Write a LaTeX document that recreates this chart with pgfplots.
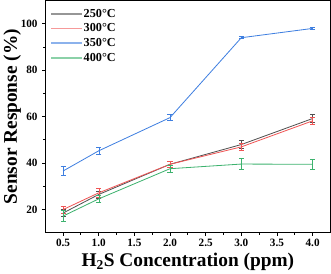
\documentclass[border=0pt]{standalone}
\usepackage{fontspec}
\setmainfont{Liberation Serif}
\usepackage{pgfplots}
\pgfplotsset{compat=1.18}
\definecolor{c250}{HTML}{505050}
\definecolor{c300}{HTML}{F05555}
\definecolor{c350}{HTML}{3F7FE0}
\definecolor{c400}{HTML}{3DB26E}
\begin{document}
\begin{tikzpicture}
\begin{axis}[
  scale only axis,
  width=280bp, height=228bp,
  xmin=0.25, xmax=4.25, ymin=10, ymax=110,
  xtick={0.5,1.0,...,4.0},
  ytick={20,40,60,80,100},
  minor x tick num=1, minor y tick num=1,
  tick align=outside, tick pos=left,
  major tick length=3bp, minor tick length=2bp,
  axis line style={line width=1.1bp},
  every tick/.style={line width=0.9bp, black},
  /pgf/number format/assume math mode=true,
  xticklabel style={font=\fontsize{11bp}{12bp}\selectfont\bfseries, /pgf/number format/.cd, fixed, fixed zerofill, precision=1},
  yticklabel style={font=\fontsize{11bp}{12bp}\selectfont\bfseries, xshift=-1bp},
  xlabel={H\textsubscript{2}S Concentration (ppm)},
  ylabel={Sensor Response (\%)},
  label style={font=\fontsize{19bp}{21bp}\selectfont\bfseries},
  xlabel style={yshift=1bp},
  ylabel style={yshift=-7bp},
  legend style={draw=none, fill=none, at={(0.0,1.0)}, anchor=north west,
    xshift=2bp, yshift=-5bp,
    font=\fontsize{12bp}{13bp}\selectfont\bfseries, row sep=3bp,
    nodes={inner sep=1bp}},
  legend cell align=left,
  legend image code/.code={\draw[#1, line width=1.6bp, opacity=0.6] (0bp,0bp) -- (30bp,0bp);},
  every axis plot/.append style={line width=0.8bp},
  error bars/y dir=both, error bars/y explicit,
  error bars/error mark options={rotate=90, mark size=2.5bp, line width=0.8bp},
]
\addplot[c250, error bars/error bar style={c250}] coordinates {
 (0.5,18.5) +- (0,1.5) (1.0,26.5) +- (0,1.5) (2.0,39.5) +- (0,1.3) (3.0,48) +- (0,1.6) (4.0,59.2) +- (0,1.8)};
\addlegendentry{250°C}
\addplot[c300, error bars/error bar style={c300}] coordinates {
 (0.5,20) +- (0,1.5) (1.0,27.2) +- (0,1.8) (2.0,39.5) +- (0,1.3) (3.0,47) +- (0,1.5) (4.0,58.2) +- (0,1.5)};
\addlegendentry{300°C}
\addplot[c350, error bars/error bar style={c350}] coordinates {
 (0.5,36.6) +- (0,1.8) (1.0,45.3) +- (0,1.6) (2.0,59.6) +- (0,1.2) (3.0,94) +- (0,0.4) (4.0,98) +- (0,0.3)};
\addlegendentry{350°C}
\addplot[c400, error bars/error bar style={c400}] coordinates {
 (0.5,17.2) +- (0,2.4) (1.0,24.6) +- (0,1.5) (2.0,37.6) +- (0,1.5) (3.0,39.6) +- (0,2.4) (4.0,39.5) +- (0,2.1)};
\addlegendentry{400°C}
\end{axis}
\end{tikzpicture}
\end{document}
